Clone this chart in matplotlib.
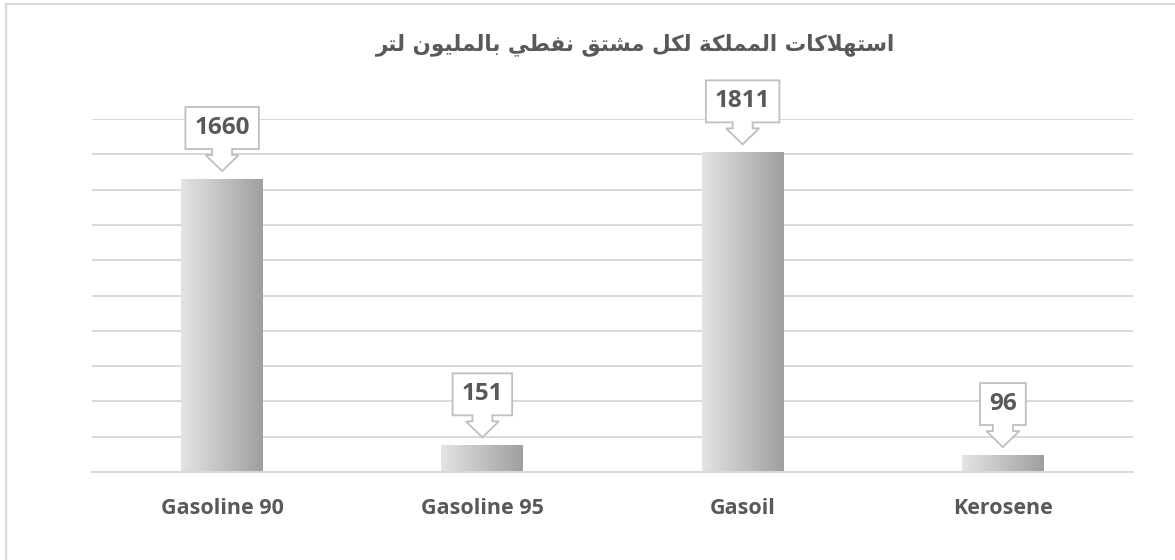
import matplotlib
matplotlib.use("Agg")
import matplotlib.pyplot as plt
import numpy as np
from matplotlib.patches import Polygon
from matplotlib.transforms import IdentityTransform
from matplotlib.colors import LinearSegmentedColormap
from matplotlib.lines import Line2D

# ---- data ----
categories = ["Gasoline 90", "Gasoline 95", "Gasoil", "Kerosene"]
values = [1660, 151, 1811, 96]
# Title: "استهلاكات المملكة لكل مشتق نفطي بالمليون لتر" written in shaped, visual order
title_words_visual = [
    "\uFEAE\uFE98\uFEDF",                                  # لتر
    "\uFEE5\uFEEE\uFEF4\uFEE0\uFEE4\uFEDF\uFE8E\uFE91",    # بالمليون
    "\uFEF2\uFEC4\uFED4\uFEE7",                            # نفطي
    "\uFED6\uFE98\uFEB8\uFEE3",                            # مشتق
    "\uFEDE\uFEDC\uFEDF",                                  # لكل
    "\uFE94\uFEDC\uFEE0\uFEE4\uFEE4\uFEDF\uFE8D",          # المملكة
    "\uFE95\uFE8E\uFEDB\uFEFC\uFEEC\uFE98\uFEB3\uFE8D",    # استهلاكات
]
title_text = " ".join(title_words_visual)

TXT = "#595959"
GRID = "#d9d9d9"
FONT = ["Open Sans", "DejaVu Sans"]

W, H, DPI = 1175, 560, 100
fig = plt.figure(figsize=(W / DPI, H / DPI), dpi=DPI)
fig.patch.set_facecolor("white")

ax = fig.add_axes([92 / W, 1 - 472 / H, (1133 - 92) / W, (472 - 119) / H])
ax.set_yticks(np.arange(0, 2001, 200))
ax.yaxis.grid(True, color=GRID, linewidth=1.4)
ax.set_axisbelow(True)
for s in ["left", "right", "top"]:
    ax.spines[s].set_visible(False)
ax.spines["bottom"].set_color(GRID)
ax.spines["bottom"].set_linewidth(1.4)
ax.tick_params(axis="y", left=False, labelleft=False)
ax.tick_params(axis="x", bottom=False, pad=15)
ax.set_xticks(range(len(categories)))
ax.set_xticklabels(categories, fontsize=15.5, fontweight="bold", color=TXT,
                   family=FONT)

cmap = LinearSegmentedColormap.from_list("g", ["#e4e4e4", "#9f9f9f"])
grad = np.linspace(0, 1, 256).reshape(1, -1)
bw = 0.315
for i, v in enumerate(values):
    ax.imshow(grad, extent=[i - bw / 2, i + bw / 2, 0, v], aspect="auto",
              cmap=cmap, interpolation="bilinear", zorder=2)
ax.set_xlim(-0.5, len(categories) - 0.5)
ax.set_ylim(0, 2000)
ax.set_aspect("auto")

# title
fig.text(636 / W, 1 - 45 / H, title_text, ha="center", va="center",
         fontsize=15.5, fontweight="bold", color=TXT,
         family=["DejaVu Sans"])

# frame border (cropped on right/bottom)
fig.add_artist(Line2D([5.5, 5.5], [0, H - 3.5], color=GRID, lw=1.6,
                      transform=IdentityTransform()))
fig.add_artist(Line2D([5.5, W], [H - 3.5, H - 3.5], color=GRID, lw=1.6,
                      transform=IdentityTransform()))

# callout data labels
fig.canvas.draw()
renderer = fig.canvas.get_renderer()
for i, v in enumerate(values):
    cx, top = ax.transData.transform((i, v))
    tip = top + 8
    head_base = tip + 16
    B = tip + 22
    T = B + 42
    t = fig.text(cx, (B + T) / 2, f"{v}", ha="center", va="center",
                 fontsize=17.5, fontweight="bold", color=TXT,
                 family=FONT, transform=IdentityTransform(),
                 zorder=6)
    ext = t.get_window_extent(renderer)
    half = ext.width / 2 + 9
    L, R = cx - half, cx + half
    sw, hw = 10, 16.5
    verts = [(L, B), (cx - sw, B), (cx - sw, head_base), (cx - hw, head_base),
             (cx, tip), (cx + hw, head_base), (cx + sw, head_base), (cx + sw, B),
             (R, B), (R, T), (L, T)]
    fig.add_artist(Polygon(verts, closed=True, facecolor="white",
                           edgecolor="#bfbfbf", lw=1.3,
                           transform=IdentityTransform(), zorder=5))

fig.savefig("out.png", dpi=DPI)
